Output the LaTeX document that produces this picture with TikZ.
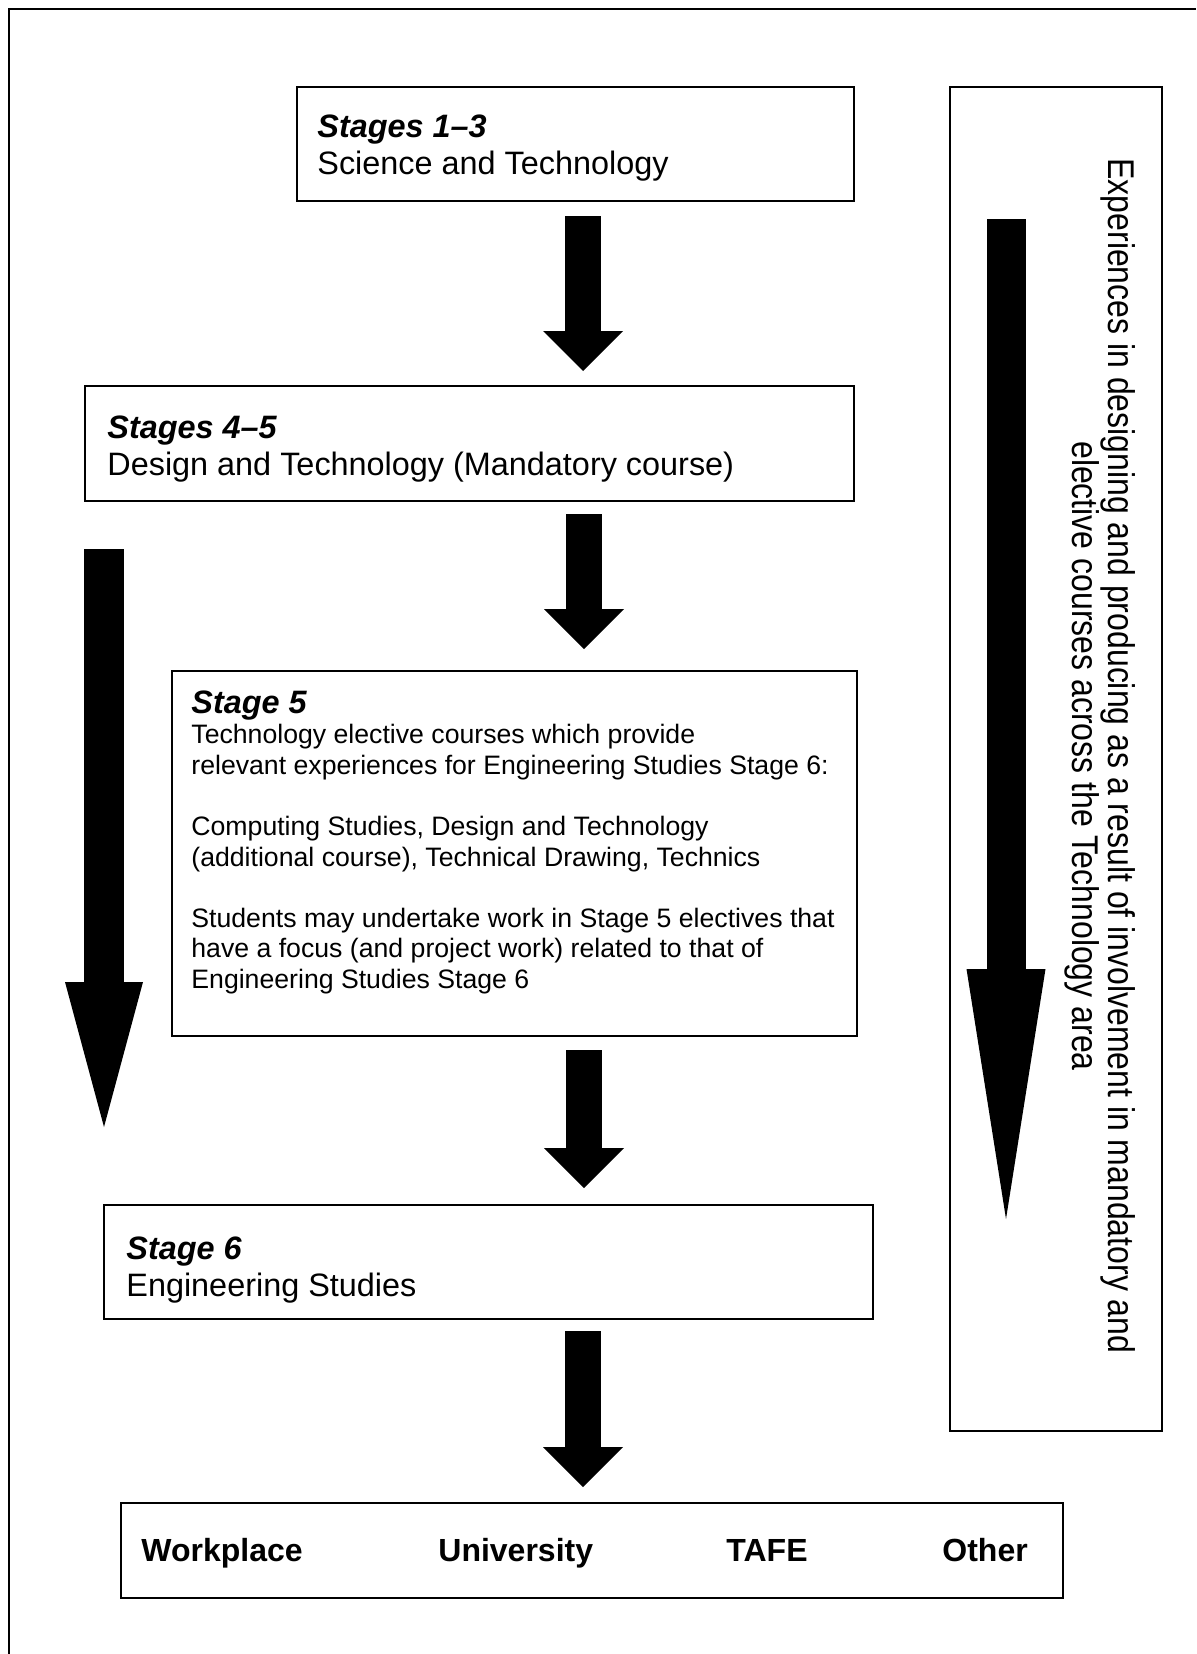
\documentclass[tikz,border=0pt]{standalone}
\usepackage{fontspec}
\setmainfont{Liberation Sans}
\newfontfamily\sidefont{Liberation Sans}[FakeStretch=0.86]
\usetikzlibrary{arrows.meta}
\newcommand{\headfont}{\fontsize{16.2}{18.6}\selectfont}
\newcommand{\bodyfont}{\fontsize{13.33}{15.3}\selectfont}
\tikzset{
	stagebox/.style={draw, line width=0.9pt, inner sep=0pt, anchor=north west},
	stagetext/.style={anchor=base west, align=flush left, inner sep=0pt, text width=360pt, font=\headfont},
	exitword/.style={anchor=base west, inner sep=0pt, font=\fontsize{16}{18}\selectfont\bfseries},
	flowarrow/.style={line width=18pt, -{Triangle[length=20pt, width=40pt, line width=0pt]}},
}
\begin{document}
\begin{tikzpicture}[x=0.5pt, y=-0.5pt]
	\useasboundingbox (0,0) rectangle (1196,1654);
	\draw[line width=1pt] (9,1654) -- (9,9) -- (1196,9);%Rahmen

	%Kaesten
	\node[stagebox, minimum width=278.5pt, minimum height=57pt] (stageA) at (296,86) {};
	\node[stagebox, minimum width=384.5pt, minimum height=57.5pt] (stageB) at (84,385) {};
	\node[stagebox, minimum width=342.5pt, minimum height=182.5pt] (stageC) at (171,670) {};
	\node[stagebox, minimum width=384.5pt, minimum height=57pt] (stageD) at (103,1204) {};
	\node[stagebox, minimum width=471pt, minimum height=47.5pt] (exits) at (120,1502) {};
	\node[stagebox, minimum width=106pt, minimum height=672pt] (sidebox) at (949,86) {};

	\node[stagetext] (txtA) at (317,137) {\textbf{\textit{Stages 1--3}}\\Science and Technology};
	\node[stagetext] (txtB) at (107,438) {\textbf{\textit{Stages 4--5}}\\Design and Technology (Mandatory course)};
	\node[stagetext, font=\bodyfont] (txtC) at (191,713) {{\headfont\bfseries\itshape Stage 5}\\
		Technology elective courses which provide\\
		relevant experiences for Engineering Studies Stage 6:\\[15.3pt]
		Computing Studies, Design and Technology\\
		(additional course), Technical Drawing, Technics\\[15.3pt]
		Students may undertake work in Stage 5 electives that\\
		have a focus (and project work) related to that of\\
		Engineering Studies Stage 6};
	\node[stagetext] (txtD) at (126,1259) {\textbf{\textit{Stage 6}}\\Engineering Studies};

	%Ziele
	\node[exitword] (work) at (141,1561) {Workplace};
	\node[exitword] (uni) at (438,1561) {University};
	\node[exitword] (tafe) at (726,1561) {TAFE};
	\node[exitword] (other) at (942,1561) {Other};

	\node[rotate=-90, align=center, inner sep=0pt, font=\sidefont\fontsize{18.6}{16.6}\selectfont] (sidetxt) at (1100,756)
		{Experiences in designing and producing as a result of involvement in mandatory and\\elective courses across the Technology area};

	%Pfeile
	\coordinate (a1top) at (583,216);
	\coordinate (a1tip) at (583,371);
	\coordinate (a2top) at (584,514);
	\coordinate (a2tip) at (584,649);
	\coordinate (a3top) at (584,1050);
	\coordinate (a3tip) at (584,1188);
	\coordinate (a4top) at (583,1331);
	\coordinate (a4tip) at (583,1487);
	\draw[flowarrow] (a1top) -- (a1tip);
	\draw[flowarrow] (a2top) -- (a2tip);
	\draw[flowarrow] (a3top) -- (a3tip);
	\draw[flowarrow] (a4top) -- (a4tip);

	\coordinate (leftTop) at (104,549);
	\coordinate (leftTip) at (104,1127);
	\draw[line width=20pt, -{Triangle[length=72.5pt, width=39pt, line width=0pt]}] (leftTop) -- (leftTip);
	\coordinate (sideTop) at (1006,219);
	\coordinate (sideTip) at (1006,1219);
	\draw[line width=19.5pt, -{Triangle[length=125pt, width=39.5pt, line width=0pt]}] (sideTop) -- (sideTip);
\end{tikzpicture}
\end{document}
